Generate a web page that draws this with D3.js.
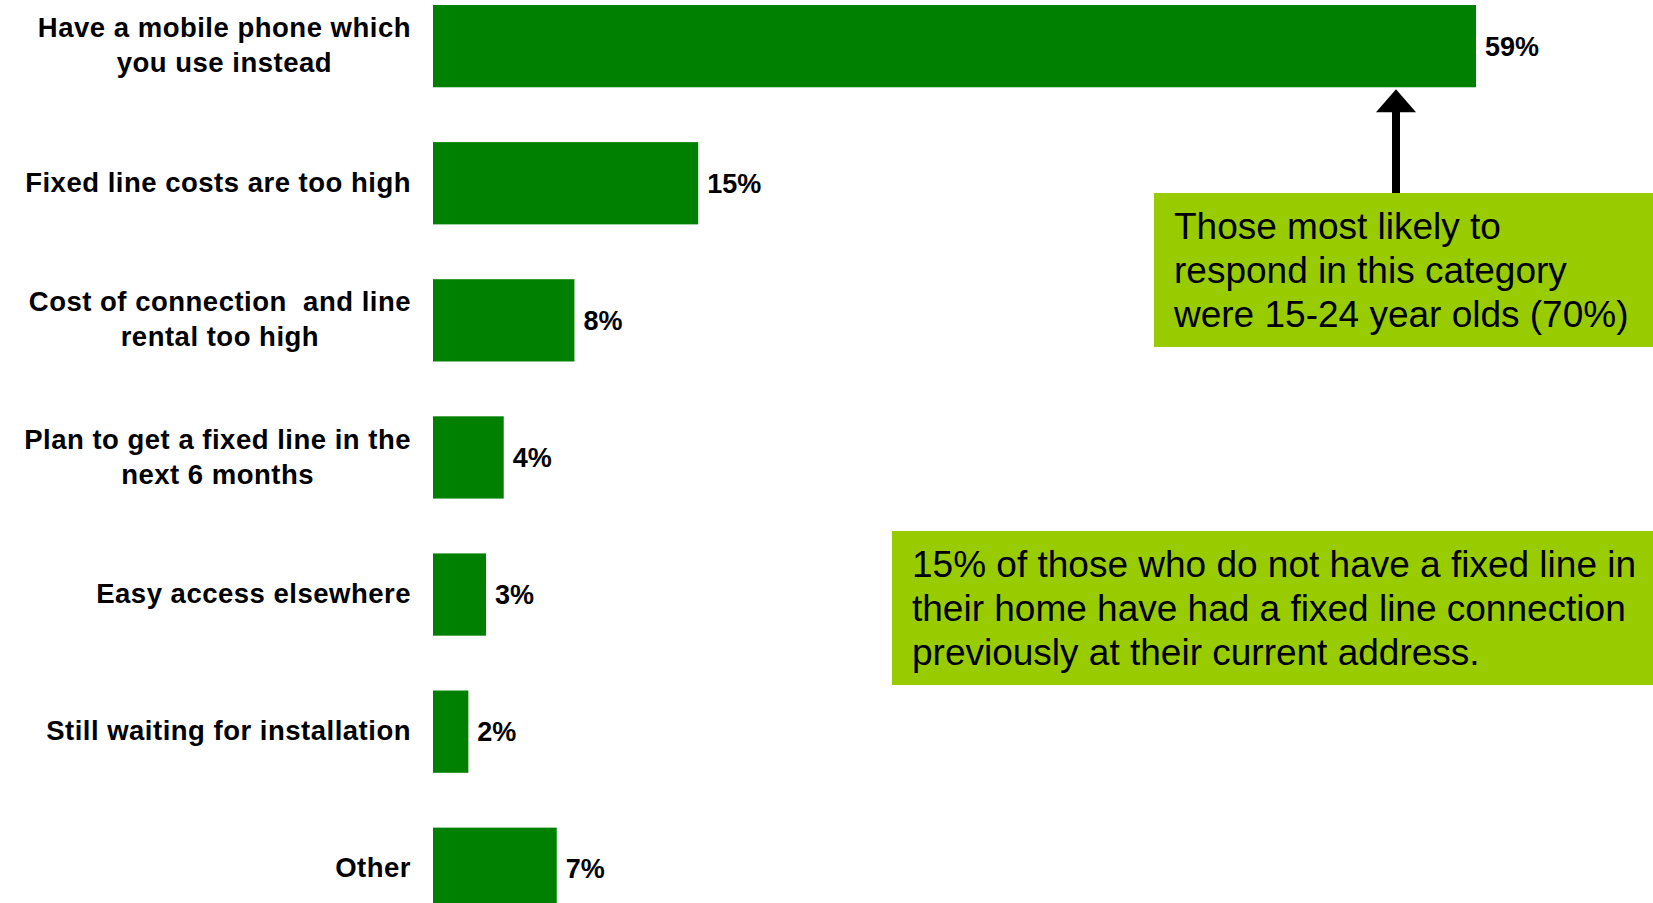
<!DOCTYPE html>
<html>
<head>
<meta charset="utf-8">
<script src="https://cdn.jsdelivr.net/npm/d3@7/dist/d3.min.js"></script>
<style>
  html, body { margin: 0; padding: 0; background: #fff; }
  svg { display: block; }
  text { font-family: "Liberation Sans", Arial, sans-serif; white-space: pre; }
</style>
</head>
<body>
<svg id="chart" width="1653" height="903"></svg>
<script>
// Reasons given for not having a fixed line at home (% of respondents)
const categories = [
  ["Have a mobile phone which", "you use instead"],
  ["Fixed line costs are too high"],
  ["Cost of connection  and line", "rental too high"],
  ["Plan to get a fixed line in the", "next 6 months"],
  ["Easy access elsewhere"],
  ["Still waiting for installation"],
  ["Other"]
];
const values = [59, 15, 8, 4, 3, 2, 7];
const valueLabels = ["59%", "15%", "8%", "4%", "3%", "2%", "7%"];

const noteTop = [
  "Those most likely to",
  "respond in this category",
  "were 15-24 year olds (70%)"
];
const noteBottom = [
  "15% of those who do not have a fixed line in",
  "their home have had a fixed line connection",
  "previously at their current address."
];

const W = 1653, H = 903;
const barColor = "#008000";
const noteColor = "#99CC00";

const svg = d3.select("#chart");
const keys = categories.map((c, i) => i);

const x = d3.scaleLinear()
  .domain([0, d3.max(values)])
  .range([433, 1476]);

const y = d3.scaleBand()
  .domain(keys)
  .range([-22.4, 937.3])
  .paddingInner(0.4)
  .paddingOuter(0.2);

// bars
svg.append("g")
  .selectAll("rect")
  .data(values)
  .join("rect")
  .attr("x", x(0))
  .attr("y", (d, i) => y(i))
  .attr("width", d => x(d) - x(0))
  .attr("height", y.bandwidth())
  .attr("fill", barColor);

// value labels
svg.append("g")
  .selectAll("text")
  .data(values)
  .join("text")
  .attr("x", d => x(d) + 9)
  .attr("y", (d, i) => y(i) + y.bandwidth() / 2 + 9.5)
  .attr("font-size", 27)
  .attr("font-weight", "bold")
  .attr("fill", "#000")
  .text((d, i) => valueLabels[i]);

// category labels: single lines right-aligned; wrapped lines centred as a block
const labelRight = 411;
const lineH = 35;
const catG = svg.append("g");
categories.forEach((lines, i) => {
  const cy = y(i) + y.bandwidth() / 2;
  const g = catG.append("g");
  const t = g.append("text")
    .attr("font-size", 27.5)
    .attr("font-weight", "bold")
    .attr("letter-spacing", "0.5px")
    .attr("fill", "#000");
  const first = cy + 8.6 - (lines.length - 1) * lineH / 2;
  const spans = lines.map((s, k) =>
    t.append("tspan").attr("y", first + k * lineH).text(s)
  );
  if (lines.length === 1) {
    t.attr("text-anchor", "end");
    spans[0].attr("x", labelRight);
  } else {
    const widest = d3.max(spans, s => s.node().getComputedTextLength());
    const mid = labelRight - widest / 2;
    t.attr("text-anchor", "middle");
    spans.forEach(s => s.attr("x", mid));
  }
});

// callout boxes
function note(left, top, bottom, lines) {
  const g = svg.append("g");
  g.append("rect")
    .attr("x", left).attr("y", top)
    .attr("width", W - left).attr("height", bottom - top)
    .attr("fill", noteColor);
  g.append("text")
    .attr("font-size", 37)
    .attr("fill", "#000")
    .selectAll("tspan")
    .data(lines)
    .join("tspan")
    .attr("x", left + 20)
    .attr("y", (d, k) => top + 46 + k * 44)
    .text(d => d);
}
note(1154, 193, 347, noteTop);
note(892, 531, 685, noteBottom);

// arrow from the upper note to the leading bar
const ax = 1396;
const tipY = y(0) + y.bandwidth() + 2;
const headBase = tipY + 23;
svg.append("rect")
  .attr("x", ax - 4).attr("y", headBase - 1)
  .attr("width", 8).attr("height", 193 - headBase + 1)
  .attr("fill", "#000");
svg.append("path")
  .attr("d", `M${ax},${tipY}L${ax + 20},${headBase}L${ax - 20},${headBase}Z`)
  .attr("fill", "#000");
</script>
</body>
</html>
